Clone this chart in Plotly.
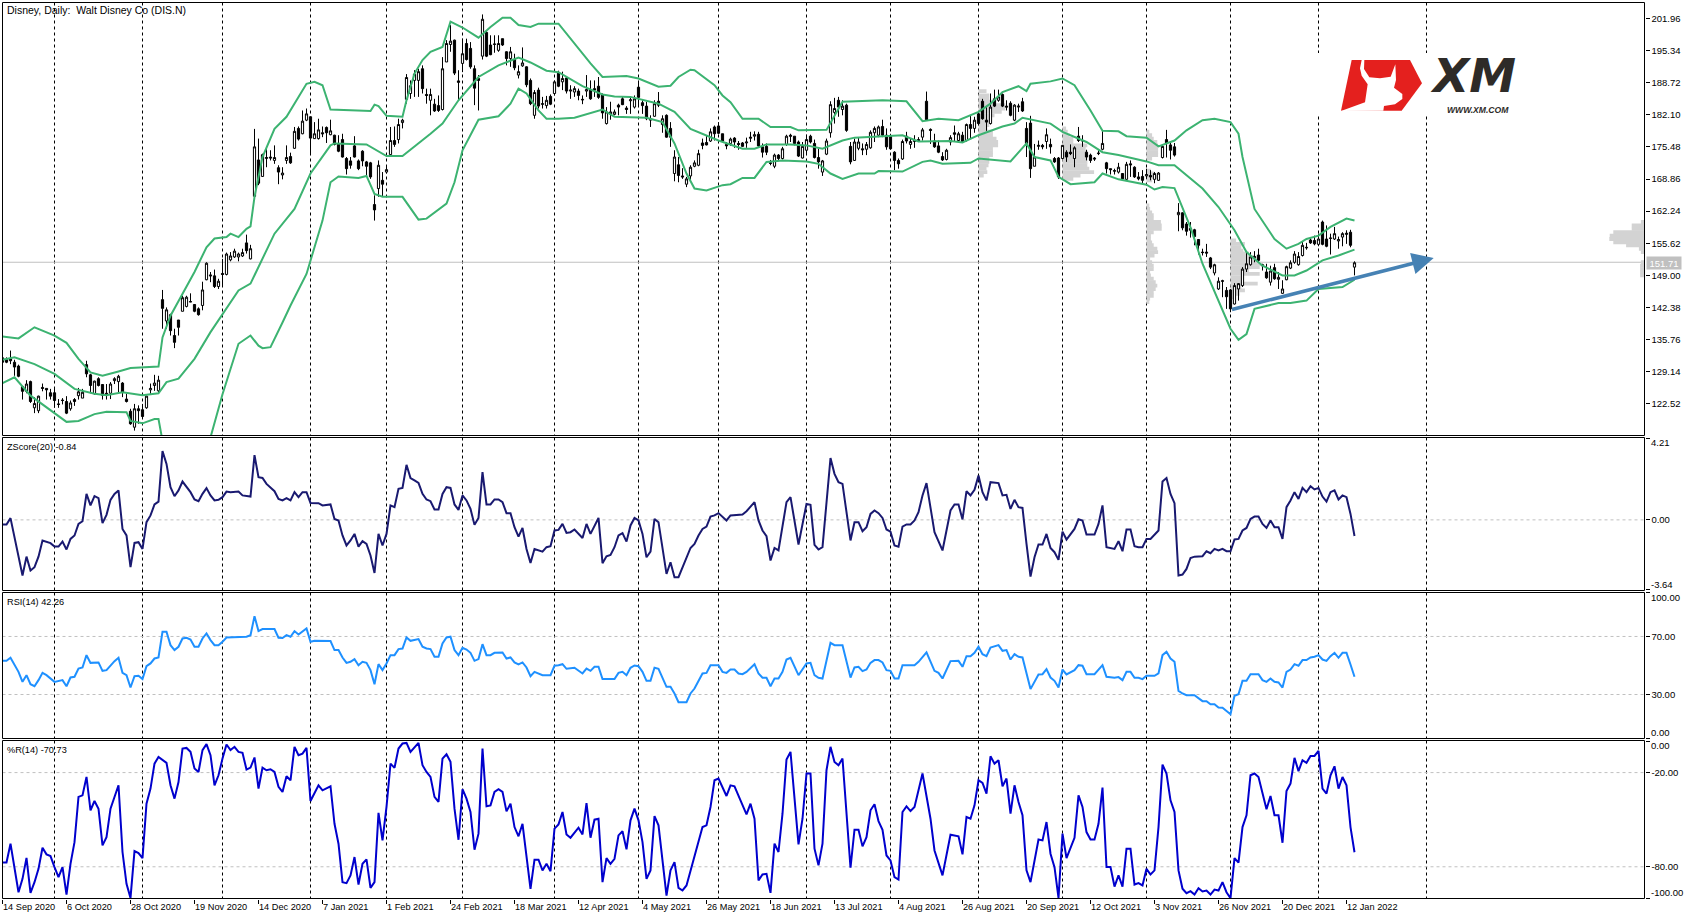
import plotly.graph_objects as go

W, H = 1692, 919
TICK_DATES = ["14 Sep 2020","6 Oct 2020","28 Oct 2020","19 Nov 2020","14 Dec 2020","7 Jan 2021","1 Feb 2021","24 Feb 2021","18 Mar 2021","12 Apr 2021","4 May 2021","26 May 2021","18 Jun 2021","13 Jul 2021","4 Aug 2021","26 Aug 2021","20 Sep 2021","12 Oct 2021","3 Nov 2021","26 Nov 2021","20 Dec 2021","12 Jan 2022"]
TICK_BARS = [16*k for k in range(len(TICK_DATES))]
SEPARATOR_BARS = [13,35,55,77,96,115,138,159,179,201,222,244,265,286,307,329,356]
PRICE_TICKS = [201.96,195.34,188.72,182.10,175.48,168.86,162.24,155.62,149.00,142.38,135.76,129.14,122.52]
LAST_PRICE = 151.71

HIGH = [132.3,132.1,133.5,131.6,130.6,126.1,127.4,127.3,123.9,124.2,126.7,125.7,125.6,125.9,123.5,123.7,124.1,123.2,123.7,125.8,125.6,131.4,128.7,127.3,128.0,126.6,126.6,127.0,128.0,128.5,127.0,124.6,121.5,122.5,122.2,122.5,124.2,126.7,128.5,128.3,
146.0,142.4,141.1,138.0,139.8,144.8,144.8,145.3,143.1,142.4,147.7,151.7,149.7,150.2,148.3,152.4,153.7,153.8,154.5,153.7,154.5,157.4,155.3,179.2,177.2,174.1,175.1,174.8,175.8,171.7,171.3,175.8,174.3,179.6,179.7,183.0,183.4,181.7,180.6,181.3,
179.7,179.7,181.1,178.0,177.9,178.2,173.4,173.4,177.7,172.9,174.8,172.6,172.4,165.5,172.7,170.3,171.7,179.6,179.7,181.3,181.3,190.5,189.2,191.3,191.6,192.3,187.5,187.5,185.4,186.1,194.0,197.5,200.6,197.6,191.3,197.8,197.8,197.1,192.3,190.3,
202.8,199.4,198.5,198.5,198.5,197.8,195.2,196.1,194.7,192.3,196.0,192.1,189.6,187.2,187.7,185.8,186.0,186.3,189.2,191.2,191.0,190.0,188.2,188.0,187.5,186.1,190.3,189.2,189.2,189.9,186.5,183.7,184.8,183.2,184.4,185.8,183.9,185.8,186.1,189.1,
185.1,184.8,182.0,185.1,186.8,182.0,182.2,180.6,174.8,173.4,171.1,169.3,171.7,172.7,174.9,177.2,177.9,179.3,179.9,180.6,178.2,176.5,177.4,177.5,176.7,176.5,177.4,178.6,178.7,178.6,176.2,176.2,172.8,174.1,174.0,175.5,178.0,178.2,177.7,176.8,
176.5,178.0,178.0,177.0,175.1,172.8,177.2,184.9,185.6,185.8,185.1,184.4,176.5,177.2,177.5,176.2,176.5,178.9,179.7,179.9,181.1,179.3,178.2,174.6,173.1,177.0,178.6,177.2,177.9,177.5,179.4,186.9,179.3,178.2,176.8,174.4,175.1,177.9,179.9,178.6,
178.6,180.3,182.0,181.7,182.7,185.4,183.7,186.5,187.3,187.3,186.5,185.1,184.9,184.3,184.4,185.6,180.6,181.9,176.1,176.8,176.1,179.3,177.2,173.4,173.4,175.9,174.8,176.0,175.6,179.6,177.9,174.9,174.1,173.4,174.8,178.8,172.4,171.0,171.0,172.2,
170.1,172.4,172.7,171.5,170.3,170.7,171.0,170.7,170.3,170.3,175.8,179.0,176.5,176.3,163.9,162.0,160.0,160.0,158.6,156.5,154.5,155.5,152.8,151.4,148.6,148.1,146.6,146.2,147.4,147.4,150.7,153.8,153.8,154.0,154.5,151.4,151.4,151.0,151.4,149.7,
148.0,151.0,152.1,154.0,153.8,155.9,155.7,156.9,157.2,157.6,160.3,159.3,157.6,159.0,157.0,157.9,158.3,158.4,151.9]

LOW = [130.9,130.9,130.7,128.3,128.0,123.4,124.7,122.7,120.6,120.6,125.1,123.4,123.4,121.7,121.7,122.4,120.4,121.1,122.1,123.4,123.7,128.0,124.7,124.4,126.1,123.4,123.4,123.5,126.6,124.7,123.9,122.8,118.2,117.0,118.4,119.4,121.5,124.6,125.2,124.7,
138.0,138.0,136.6,134.0,136.6,141.6,142.4,143.5,141.4,140.7,141.8,148.0,147.6,146.4,146.2,146.9,149.0,151.9,152.6,151.9,152.8,153.5,152.3,165.2,167.6,169.3,171.3,172.7,172.0,167.8,168.8,172.0,172.0,175.1,176.8,178.1,180.8,173.8,177.2,177.0,
177.5,176.3,177.9,175.8,174.4,173.3,169.8,171.0,173.3,170.7,171.5,169.3,168.9,160.3,165.2,165.2,170.0,173.8,175.5,176.2,179.3,184.4,185.4,185.8,185.8,186.5,184.4,182.0,182.7,182.7,183.0,193.0,195.1,190.3,185.1,190.9,193.3,191.6,184.1,183.0,
193.5,194.0,194.4,194.9,195.1,196.3,192.3,192.0,191.3,189.6,192.0,187.8,184.1,181.3,183.4,183.4,183.4,184.1,186.1,187.8,187.2,186.5,185.4,185.8,185.1,184.3,185.8,185.2,185.8,185.4,181.3,180.1,181.1,182.0,182.0,184.1,182.3,182.3,183.4,183.7,
182.3,181.0,179.6,181.7,183.7,178.4,177.4,175.5,168.4,168.2,168.9,167.2,168.7,171.3,171.5,175.0,175.8,176.5,176.8,178.1,176.5,175.0,175.7,175.3,174.9,175.5,175.3,176.5,176.8,175.5,173.3,173.8,171.7,171.1,172.7,172.9,175.7,176.5,175.8,173.4,
173.1,173.8,176.2,173.1,171.0,169.5,173.8,177.4,180.3,181.7,182.0,178.6,171.9,172.6,174.8,173.8,173.8,175.1,176.5,177.5,177.5,174.9,174.9,170.7,171.0,172.8,176.2,175.1,175.3,176.5,176.8,181.0,176.1,175.3,174.2,172.6,172.7,175.8,176.5,176.7,
176.5,176.6,177.2,178.4,179.9,181.1,178.8,180.1,183.7,184.8,183.7,183.0,181.8,180.8,182.7,182.7,173.4,169.1,171.5,174.9,175.0,175.1,174.1,172.2,168.9,173.1,172.4,173.8,171.3,176.5,175.5,172.7,172.2,172.6,173.8,174.8,170.0,169.8,169.8,170.0,
168.6,168.7,169.3,169.1,168.6,167.7,168.9,168.6,168.0,168.5,173.1,173.3,172.9,173.5,158.1,158.3,157.2,156.8,155.2,153.3,153.1,152.8,150.3,149.0,146.0,144.5,142.1,141.4,143.0,143.8,146.6,149.7,151.0,151.7,151.7,150.0,148.3,146.9,148.1,146.2,
145.2,148.0,150.3,151.4,151.0,152.9,154.3,155.5,155.2,155.0,155.2,154.8,153.3,156.3,154.5,155.0,155.5,154.8,149.0]

OPEN = [132.0,131.6,131.8,131.1,130.3,126.1,125.1,127.1,121.7,121.1,125.9,125.7,124.8,124.8,122.5,123.3,123.0,121.5,123.4,124.2,123.7,130.6,128.5,124.6,127.7,126.5,124.7,124.7,127.3,127.1,126.8,123.5,121.0,117.7,121.5,121.3,121.7,125.4,126.3,125.2,
144.0,139.6,140.9,136.6,139.8,141.6,142.6,143.5,143.0,142.1,142.8,148.1,149.1,148.9,146.7,149.4,149.2,152.2,152.8,152.8,153.0,155.7,152.4,165.3,172.8,169.4,173.1,173.4,172.7,171.2,169.7,172.7,173.5,175.2,179.3,178.2,181.0,181.7,177.2,177.2,
178.4,179.5,178.0,177.9,176.2,177.0,173.1,172.6,175.7,172.6,174.6,172.4,172.2,163.6,166.9,168.6,170.3,173.9,176.8,177.0,180.5,185.3,186.5,189.2,189.2,191.6,186.3,185.1,184.3,184.0,183.2,193.0,196.6,197.5,189.1,192.7,196.8,195.8,191.6,189.6,
194.2,199.1,196.5,196.6,195.4,197.8,195.1,193.7,193.5,190.3,192.2,192.0,189.2,182.0,187.2,184.4,184.0,185.9,186.5,190.7,188.9,189.7,187.0,186.8,187.0,185.3,187.0,187.2,187.5,188.0,186.3,180.3,182.3,182.2,184.1,185.4,183.5,185.0,183.7,187.8,
184.6,183.9,181.0,181.8,184.9,180.1,182.0,179.3,170.0,171.8,169.5,167.8,169.5,171.5,171.7,176.3,176.4,176.7,179.6,179.8,178.2,176.0,176.2,177.3,176.2,176.3,176.3,177.5,177.7,178.1,175.5,175.6,172.2,171.5,173.8,173.1,176.0,177.9,177.7,176.5,
173.2,174.8,177.7,176.2,173.3,170.3,174.0,178.4,182.6,185.1,183.2,184.1,175.6,172.7,175.2,175.1,175.0,175.3,178.4,177.9,179.7,177.9,177.7,174.4,172.7,173.0,177.7,176.0,176.6,177.0,177.5,184.9,179.1,176.7,175.7,173.5,172.9,176.5,178.4,176.8,
177.9,176.8,180.1,179.3,182.3,184.9,181.0,180.3,185.4,185.1,186.3,183.9,184.5,181.0,183.7,184.8,179.3,180.4,171.5,175.6,175.8,176.6,176.0,173.1,173.2,173.1,174.4,174.4,173.1,177.7,176.7,174.4,173.8,173.2,174.1,175.0,172.2,171.0,170.6,170.3,
170.0,168.8,172.0,171.3,169.3,169.4,169.5,169.6,168.8,168.6,173.3,177.0,175.9,175.5,161.5,161.9,159.6,158.7,158.4,156.4,153.8,153.8,152.6,149.5,146.2,147.9,145.9,146.0,143.1,146.2,146.9,150.3,151.2,152.6,153.2,151.2,149.7,147.6,150.6,148.2,
145.3,148.1,150.5,151.7,151.2,153.1,154.8,156.3,156.2,155.4,160.0,156.5,156.6,156.5,156.1,156.9,157.7,157.9,150.7]

CLOSE = [131.1,131.1,131.4,130.1,128.2,125.1,126.6,123.0,122.6,124.1,125.7,125.4,124.1,123.2,122.4,123.2,120.6,122.7,123.0,125.0,124.9,128.7,126.3,127.2,126.3,124.3,124.3,126.6,127.7,128.2,124.9,123.0,118.4,121.5,121.1,119.9,124.1,125.7,126.8,127.4,
142.2,141.9,137.6,135.2,138.3,144.4,144.5,143.6,141.6,140.9,146.0,151.5,148.9,146.7,147.8,149.2,153.4,153.0,154.0,153.4,153.7,154.1,154.5,175.5,168.0,173.9,173.3,173.2,173.3,170.3,170.1,173.3,172.2,178.7,177.1,180.8,182.3,177.3,178.2,179.0,
178.2,178.4,178.8,176.0,174.6,173.4,171.0,171.7,173.4,171.0,172.6,171.5,169.3,162.5,171.7,167.8,170.8,176.8,176.0,180.1,181.0,189.8,188.1,190.5,191.0,187.5,186.1,186.3,182.9,183.0,191.6,196.8,197.3,190.7,188.8,194.7,193.5,192.0,187.6,189.2,
201.8,194.2,194.5,196.7,196.8,196.5,193.7,195.1,191.8,191.0,192.8,188.3,184.4,186.7,183.9,184.3,185.1,184.3,188.9,188.0,189.6,187.0,187.2,187.5,186.1,185.2,187.3,185.4,187.2,185.7,182.5,182.7,182.7,182.7,183.7,184.2,183.2,185.2,185.4,185.7,
184.0,181.3,181.3,184.4,184.1,181.3,177.5,177.5,173.4,169.6,169.3,168.9,171.3,172.2,174.1,175.8,175.9,178.6,178.2,178.3,176.7,175.7,177.1,176.5,176.0,175.6,176.5,177.3,178.0,175.7,174.4,174.4,172.1,173.8,173.1,175.1,177.7,177.7,176.2,173.6,
175.6,177.0,176.5,173.3,172.4,172.6,176.7,184.2,183.4,183.7,183.9,178.9,172.4,176.5,176.5,174.9,176.0,178.5,179.3,179.6,177.9,175.5,175.1,172.7,172.0,176.6,176.7,176.6,176.8,176.8,179.0,181.1,178.9,175.5,174.4,172.8,174.8,177.4,178.1,178.2,
176.6,180.1,179.3,181.0,180.3,181.3,180.6,183.7,183.9,185.8,183.9,183.7,182.0,184.1,183.9,182.9,176.2,171.0,173.4,175.8,175.5,178.0,175.5,172.4,169.3,175.8,173.4,174.1,175.3,176.8,176.8,173.4,172.7,173.0,174.2,176.2,171.0,170.8,170.5,171.3,
168.9,171.9,171.8,169.3,168.9,168.6,169.8,169.3,170.0,170.1,175.6,176.3,174.8,173.8,162.0,158.8,158.1,158.3,157.0,155.2,153.7,153.6,150.7,151.2,147.8,147.8,144.6,142.1,146.9,147.3,150.3,151.4,152.8,152.9,152.1,151.0,148.5,149.9,148.3,148.6,
146.2,150.8,151.6,153.4,152.9,155.2,154.7,155.7,155.5,156.5,155.4,155.0,156.7,157.6,156.4,157.6,157.5,155.2,151.6]

BB_UPPER = [(0,136.4),(4,136.0),(8,138.3),(13,136.6),(16,135.1),(19,131.8),(22,129.0),(25,128.3),(29,129.2),(32,129.9),(39,130.2),(40,136.2),(42,140.7),(45,145.2),(48,149.7),(51,154.8),(53,156.6),(56,156.9),(57,157.6),(59,156.9),(61,158.6),(62,159.1),(63,165.2),(65,173.4),(68,179.2),(71,181.7),(74,185.8),(76,188.5),(78,188.9),(80,188.2),(82,183.2),(87,183.0),(92,182.9),(93,184.2),(94,183.9),(96,181.9),(100,181.7),(101,185.1),(103,190.6),(105,193.4),(107,195.1),(110,196.1),(112,201.3),(115,200.1),(119,198.0),(122,200.2),(125,202.1),(127,202.1),(129,200.6),(132,200.2),(134,200.9),(139,200.9),
(142,197.8),(147,192.7),(150,189.9),(156,190.1),(159,189.6),(164,187.9),(167,188.1),(169,189.9),(172,191.4),(173,191.3),(178,188.2),(180,186.1),(182,184.7),(185,181.3),(189,181.3),(192,179.6),(197,179.6),(199,178.9),(206,179.0),(210,184.8),(220,185.1),(226,184.9),(230,180.8),(234,181.3),(239,181.0),(244,182.7),(247,184.4),(250,186.8),(254,188.0),(256,187.0),(257,188.5),(262,189.0),(265,189.6),(268,188.2),(272,183.0),(275,178.8),(279,178.7),
(281,177.7),(286,177.4),(289,175.6),(293,176.8),(296,178.9),(300,181.0),(303,181.3),(307,180.6),(309,178.2),(310,173.4),(313,162.7),(318,156.5),(321,154.5),(324,155.5),(326,156.5),(329,157.2),(332,159.0),(336,160.7),(338,160.3)]

BB_MIDDLE = [(0,131.6),(3,132.1),(8,130.7),(13,128.7),(18,125.6),(23,124.6),(26,124.3),(30,124.9),(35,124.3),(39,124.7),(41,127.0),(44,127.7),(48,131.8),(52,137.3),(59,145.9),(62,147.3),(68,157.6),(73,162.7),(77,170.0),(82,175.8),(83,176.2),(91,176.0),(96,173.6),(100,173.6),(107,178.2),(110,180.3),(114,185.1),(119,189.9),(124,192.3),(129,193.9),(132,192.9),(136,191.2),(139,190.9),
(145,188.0),(150,186.3),(153,185.9),(157,185.8),(164,184.4),(168,182.7),(172,179.2),(179,176.8),(185,175.1),(188,175.1),(191,176.0),(197,176.0),(201,175.8),(205,175.1),(210,176.8),(213,177.4),(221,177.7),(225,177.9),(229,176.6),(237,176.7),(240,176.4),(244,177.9),(250,179.7),(253,180.3),(255,181.5),(262,180.3),(265,178.6),(271,176.5),(275,174.4),(279,173.8),
(286,172.5),(289,171.7),(293,171.7),(296,169.6),(300,166.9),(304,163.1),(308,158.3),(311,153.8),(315,151.0),(320,149.0),(323,149.0),(326,150.0),(330,152.1),(334,153.1),(338,154.3)]

BB_LOWER = [(0,126.8),(3,128.0),(7,124.2),(16,118.8),(19,119.0),(23,120.4),(26,120.9),(31,120.8),(32,119.0),(35,118.5),(38,119.4),(39,119.4),(40,114.9),(42,109.4),(49,109.4),(52,115.6),(55,124.5),(59,134.9),(62,136.6),(64,134.5),(65,134.0),(67,134.2),(70,139.3),(72,142.8),(76,149.3),(78,154.8),(80,160.3),(82,168.2),(84,169.4),(89,169.1),(91,169.5),(93,165.8),(95,165.2),(100,165.2),(104,160.5),(106,160.7),(110,163.1),(111,163.8),(113,168.2),(115,174.8),(119,181.1),(124,181.8),(127,184.4),(129,187.5),(131,186.5),(134,183.0),(136,181.3),(139,181.3),
(143,181.5),(150,183.2),(153,181.7),(161,181.5),(165,180.6),(168,176.2),(171,170.0),(173,166.9),(176,166.5),(180,167.6),(182,167.8),(185,169.1),(188,169.1),(191,172.4),(195,172.7),(201,172.5),(204,172.0),(207,170.0),(210,168.9),(214,170.0),(218,170.0),(219,170.5),(225,170.4),(230,172.4),(232,172.7),(235,172.0),(242,172.2),(244,173.1),(252,172.5),(256,176.2),(258,173.4),(262,172.7),(264,169.3),(267,167.8),(273,168.2),(275,170.0),(279,168.8),
(286,167.7),(288,166.7),(290,167.2),(293,167.0),(297,158.9),(300,151.4),(307,138.0),(309,135.7),(311,136.9),(313,142.1),(319,143.3),(322,143.3),(326,143.8),(329,146.2),(335,146.6),(338,148.1)]

ZSCORE = [(0,-.24),(1,-.24),(2,.09),(3,-.90),(4,-1.85),(5,-2.89),(6,-1.91),(7,-2.63),(8,-2.46),(9,-1.91),(10,-1.07),(12,-1.21),(13,-1.39),(14,-1.39),(15,-1.13),(16,-1.54),(17,-.99),(18,-.81),(19,-.21),(20,-.07),(21,1.35),(22,.75),(23,1.23),(24,1.13),(25,-.17),(26,.26),(27,1.04),(28,1.35),(29,1.53),(30,-.47),(31,-.81),(32,-2.46),(33,-1.20),(34,-1.16),(35,-1.51),(36,-.12),(37,.23),(38,.80),(39,.95),(40,3.57),(41,2.91),(42,1.70),(43,1.23),(44,1.53),(45,1.99),(46,1.73),(47,1.44),(48,1.06),(49,.97),(50,1.35),(51,1.65),(52,1.27),(53,1.01),(54,1.04),(55,1.18),(56,1.47),(57,1.44),(59,1.47),(60,1.27),(62,1.21),(63,3.36),(64,2.22),(65,2.18),(66,1.87),(67,1.66),(68,1.49),(69,1.09),(70,1.01),(71,1.13),(72,1.01),(73,1.44),(74,1.18),(75,1.44),(76,1.44),(77,.88),(79,.87),(80,.75),(82,.80),(83,.05),(84,-.03),(85,-.81),(86,-1.33),(87,-1.07),(88,-.73),(89,-1.39),(90,-1.11),(91,-1.25),(92,-1.85),(93,-2.76),(94,-.73),(95,-1.33),(96,-.73),(97,.75),(98,.66),(99,1.61),(100,1.66),(101,2.86),(102,2.17),(103,2.05),(104,1.92),(105,1.35),(106,1.06),(107,.97),(108,.54),(109,.54),(110,1.35),(111,1.70),(112,1.66),(113,.80),(114,.52),(115,1.27),(116,1.01),(117,.57),(118,-.26),(119,.10),(120,2.48),(121,.80),(122,.80),(123,1.06),(124,1.06),(125,.92),(126,.35),(127,.35),(128,-.38),(129,-.87),(130,-.42),(131,-1.51),(132,-2.24),(133,-1.51),(135,-1.65),(136,-1.42),(137,-1.37),(138,-.55),(139,-.52),(140,-.21),(141,-.68),(142,-.64),(143,-.50),(145,-.94),(146,-.21),(147,-.73),(149,.10),
(150,-2.25),(151,-1.89),(152,-1.82),(153,-1.42),(154,-.81),(155,-.69),(156,-1.13),(157,-.29),(158,.10),(159,-.03),(160,-.73),(161,-1.94),(162,-1.65),(163,.05),(164,-.12),(166,-2.81),(167,-2.20),(168,-2.98),(169,-2.98),(170,-2.50),(171,-2.03),(172,-1.46),(173,-1.25),(174,-.81),(175,-.47),(176,-.35),(177,.17),(178,.23),(179,.35),(181,-.03),(182,.23),(183,.26),(185,.28),(186,.45),(188,.92),(189,-.03),(190,-.55),(191,-.85),(192,-2.11),(193,-1.46),(194,-1.59),(196,.92),(197,1.18),(199,-1.28),(201,.83),(202,.78),(203,-1.30),(204,-1.54),(205,-1.42),(207,3.21),(208,2.39),(209,1.96),(210,1.87),(212,-1.07),(213,-.12),(214,-.12),(215,-.59),(216,-.38),(217,.31),(218,.49),(219,.35),(220,.10),(221,-.50),(222,-.61),(223,-1.33),(224,-1.39),(225,-.35),(226,-.24),(227,-.24),(228,-.03),(229,.40),(230,1.27),(231,1.91),(233,-.64),(235,-1.59),(237,.49),(238,.80),(239,.80),(240,.02),(241,1.49),(242,1.27),(243,1.56),(244,2.31),(245,1.44),(246,1.01),(247,1.96),(249,1.91),(250,1.27),(251,1.30),(252,.57),(253,1.04),(254,.66),(255,.62),(256,-1.25),(257,-2.95),(258,-1.94),(259,-1.28),(260,-1.28),(261,-.73),(262,-1.46),(263,-1.68),(264,-2.08),(265,-.61),(266,-1.02),(268,-.47),(269,.03),(270,-.03),(271,-.76),(273,-.76),(274,-.21),(275,.75),(276,-1.42),(278,-1.51),(279,-1.11),(280,-1.63),
(281,-.50),(282,-.50),(283,-1.37),(284,-1.42),(285,-1.42),(286,-.99),(287,-.99),(289,-.55),(290,1.99),(291,2.17),(292,1.35),(293,.87),(294,-2.89),(295,-2.84),(296,-2.55),(297,-1.98),(298,-1.91),(300,-1.89),(301,-1.63),(302,-1.73),(303,-1.51),(304,-1.59),(305,-1.51),(306,-1.63),(307,-1.63),(308,-1.02),(309,-.99),(310,-.55),(311,-.42),(312,.05),(313,.17),(314,.17),(315,-.21),(316,-.42),(317,-.03),(318,-.38),(319,-.38),(320,-.99),(321,.66),(322,1.01),(323,1.44),(324,1.09),(325,1.66),(326,1.44),(327,1.75),(328,1.58),(329,1.66),(330,1.21),(331,.95),(332,1.44),(333,1.53),(334,1.06),(335,1.27),(336,1.18),(337,.31),(338,-.84)]

RSI = [(0,53.2),(1,53.2),(2,55.3),(3,50.2),(4,45.6),(5,38.7),(6,43.3),(7,37.1),(8,35.7),(9,39.9),(10,44.9),(11,43.3),(12,41.0),(13,38.7),(15,39.9),(16,35.7),(17,41.7),(18,42.2),(19,47.9),(20,48.6),(21,57.1),(22,51.8),(24,52.1),(25,46.3),(26,46.8),(27,50.2),(28,53.0),(29,55.3),(30,44.9),(31,43.3),(32,34.8),(33,42.6),(34,42.9),(35,40.6),(36,49.5),(37,51.4),(38,54.8),(39,55.5),(40,73.2),(41,73.2),(42,64.0),(43,60.6),(44,62.9),(45,68.6),(46,69.1),(47,67.9),(48,62.9),(49,62.9),(50,68.6),(51,72.1),(52,67.5),(53,64.0),(54,64.0),(55,66.3),(56,69.3),(61,69.8),(62,70.9),(63,84.0),(64,73.7),(65,75.1),(68,75.1),(69,69.1),(70,68.9),(71,70.9),(72,69.8),(73,73.7),(74,71.4),(76,75.5),(77,66.3),(78,67.0),(82,66.8),(83,60.6),(84,60.6),(85,55.5),(86,51.8),(87,52.5),(88,54.4),(89,50.2),(90,52.5),(91,51.8),(92,46.8),(93,37.1),(94,50.9),(95,46.8),(96,51.4),(97,57.1),(98,57.1),(99,61.3),(100,61.7),(101,69.3),(102,67.0),(104,68.2),(105,62.9),(106,61.7),(107,61.3),(108,56.0),(109,56.0),(110,65.2),(111,69.3),(112,69.8),(113,60.6),(114,57.1),(115,62.2),(116,61.0),(117,58.7),(118,53.2),(119,54.4),(120,64.7),(121,57.1),(122,57.1),(123,58.7),(125,59.0),(126,54.8),(127,55.5),(128,52.1),(129,50.7),(130,52.1),(131,48.6),(132,42.6),(133,45.6),(135,43.3),(137,43.3),(138,49.8),(139,50.2),(140,50.9),(141,47.7),(143,48.4),(145,44.5),(146,47.9),(147,46.3),(148,49.1),(149,49.1),
(150,40.6),(153,40.6),(154,44.9),(155,45.6),(156,43.3),(157,48.4),(158,50.0),(159,49.5),(160,45.6),(161,39.4),(162,39.4),(163,48.4),(164,47.7),(166,35.3),(167,35.3),(168,30.7),(169,24.7),(171,24.7),(172,30.7),(173,34.1),(175,44.5),(176,44.9),(177,50.2),(179,50.2),(180,45.6),(181,44.9),(182,47.2),(183,47.2),(184,44.5),(185,44.0),(186,45.6),(188,50.9),(189,44.5),(190,41.5),(191,41.5),(192,35.7),(193,41.0),(194,41.0),(195,45.6),(196,54.1),(197,55.3),(199,43.3),(201,51.4),(202,51.8),(203,43.3),(204,41.5),(205,41.0),(207,65.6),(208,64.0),(210,64.0),(212,41.7),(213,48.6),(214,49.1),(215,46.1),(216,47.2),(217,51.8),(218,53.7),(219,53.7),(220,52.1),(221,46.8),(222,46.3),(223,41.0),(224,41.0),(225,50.2),(228,50.2),(229,52.5),(231,59.0),(233,46.3),(234,44.9),(235,41.0),(237,53.0),(239,53.2),(240,49.1),(241,56.4),(242,56.4),(243,58.7),(244,62.9),(245,57.8),(246,56.4),(247,62.4),(249,64.0),(250,60.1),(251,60.6),(252,54.1),(253,57.8),(254,56.0),(255,55.5),(257,33.7),(259,43.8),(260,44.0),(261,47.5),(262,41.7),(263,39.4),(264,34.8),(265,47.2),(266,43.8),(268,46.8),(269,50.2),(270,49.8),(271,44.0),(273,44.0),(275,50.2),(276,42.2),(278,41.5),(279,42.0),(280,39.9),
(281,45.6),(282,45.6),(283,41.5),(284,41.5),(285,40.6),(286,42.9),(288,42.9),(289,44.5),(290,57.1),(291,59.4),(292,54.8),(293,52.5),(294,32.5),(295,30.7),(296,29.5),(298,29.5),(300,25.4),(301,25.4),(302,23.3),(303,23.3),(304,21.0),(305,20.8),(307,16.4),(308,29.1),(309,30.2),(310,39.4),(311,39.4),(312,44.0),(314,44.0),(315,39.9),(316,38.7),(317,41.0),(318,38.7),(319,38.3),(320,34.8),(321,45.6),(322,47.2),(323,50.9),(324,49.8),(325,53.7),(326,53.7),(327,55.5),(328,56.0),(329,57.1),(330,54.1),(331,53.2),(332,56.4),(333,58.7),(334,55.3),(335,58.7),(336,58.7),(337,50.7),(338,42.26)]

WILLIAMS_R = [(0,-77.2),(1,-77.2),(2,-65.3),(3,-82.3),(4,-96.2),(5,-87.7),(6,-74.3),(7,-96.6),(8,-89.8),(9,-81.3),(10,-67.9),(11,-72.1),(12,-73.2),(13,-80.2),(14,-86.6),(15,-80.2),(16,-97.7),(17,-78.1),(18,-64.3),(19,-35.5),(20,-34.5),(21,-22.8),(22,-44.0),(23,-38.1),(24,-43.0),(25,-66.4),(26,-61.1),(27,-43.0),(28,-35.5),(29,-28.1),(30,-70.6),(31,-90.9),(32,-99.8),(33,-70.0),(34,-71.3),(35,-74.5),(36,-39.8),(37,-30.2),(38,-14.3),(39,-10.0),(41,-13.8),(42,-28.1),(43,-36.6),(44,-26.0),(45,-4.7),(46,-4.3),(47,-6.8),(48,-17.4),(49,-19.6),(50,-5.7),(51,-1.9),(52,-8.9),(53,-28.1),(54,-21.7),(55,-11.1),(56,-2.1),(57,-5.7),(58,-3.6),(59,-6.8),(60,-7.4),(61,-18.1),(62,-16.8),(63,-10.4),(64,-30.2),(65,-16.8),(66,-18.5),(67,-17.9),(68,-19.6),(69,-29.1),(70,-32.3),(71,-22.3),(72,-24.9),(73,-3.6),(74,-8.9),(75,-7.9),(76,-4.3),(77,-38.1),(79,-28.1),(80,-31.3),(82,-28.7),(83,-52.6),(84,-65.3),(85,-89.8),(86,-90.4),(87,-85.5),(88,-73.8),(89,-91.3),(90,-78.1),(91,-75.3),(92,-93.4),(93,-89.8),(94,-45.7),(95,-63.2),(96,-41.9),(97,-14.3),(98,-17.0),(99,-4.7),(100,-1.5),(101,-1.1),(102,-6.8),(104,-1.1),(105,-15.3),(106,-19.6),(107,-22.8),(108,-35.5),(109,-38.7),(110,-11.1),(111,-8.3),(112,-13.2),(113,-43.0),(114,-62.8),(115,-30.6),(116,-36.6),(117,-45.1),(118,-69.1),(119,-58.9),(120,-4.7),(121,-41.5),(122,-40.9),(123,-32.3),(124,-30.6),(125,-32.3),(126,-44.7),(127,-39.8),(128,-54.7),(129,-60.6),(130,-52.6),(131,-73.8),(132,-94.0),(133,-75.5),(134,-75.5),(135,-82.3),(136,-78.1),(137,-82.8),(138,-55.7),(139,-53.0),(140,-45.1),(141,-59.4),(142,-61.5),(144,-55.1),(145,-59.4),(146,-39.4),(147,-61.5),(148,-50.0),(149,-49.4),
(150,-89.8),(151,-74.5),(152,-78.1),(153,-74.9),(154,-60.0),(155,-57.4),(156,-68.9),(157,-50.4),(158,-43.0),(159,-50.4),(160,-64.3),(161,-87.7),(162,-82.3),(163,-47.7),(164,-53.6),(166,-98.3),(167,-82.3),(168,-77.0),(169,-93.4),(170,-95.1),(171,-91.9),(173,-73.8),(175,-54.7),(176,-53.6),(177,-41.9),(178,-24.9),(179,-23.8),(181,-34.9),(182,-28.1),(183,-28.7),(185,-40.9),(186,-46.6),(187,-39.8),(188,-49.4),(189,-88.7),(190,-84.9),(191,-84.5),(192,-96.6),(193,-65.3),(194,-70.6),(195,-46.2),(196,-11.7),(197,-6.8),(199,-65.7),(200,-49.4),(201,-20.6),(202,-20.6),(203,-68.5),(204,-79.1),(205,-65.3),(206,-18.5),(207,-3.6),(208,-13.2),(209,-15.3),(210,-11.1),(212,-80.6),(213,-56.4),(214,-56.4),(215,-67.0),(216,-61.1),(217,-44.0),(218,-40.2),(219,-50.9),(220,-56.4),(221,-72.8),(222,-76.0),(223,-86.6),(224,-88.1),(225,-45.1),(226,-41.5),(227,-44.5),(228,-41.9),(230,-20.6),(232,-49.4),(233,-69.6),(235,-85.5),(237,-59.6),(239,-60.6),(240,-72.1),(241,-48.3),(242,-49.4),(243,-40.9),(244,-24.9),(245,-26.6),(246,-33.4),(247,-9.6),(248,-14.3),(249,-12.1),(250,-28.7),(251,-23.8),(252,-46.2),(253,-28.1),(254,-38.7),(255,-47.2),(256,-82.3),(257,-89.8),(259,-62.6),(260,-63.2),(261,-51.5),(262,-71.7),(263,-80.2),(264,-99.8),(265,-58.9),(266,-74.5),(268,-61.5),(269,-34.5),(270,-41.9),(271,-57.9),(272,-62.6),(273,-62.6),(274,-52.6),(275,-29.6),(276,-80.2),(277,-80.2),(278,-92.6),(279,-85.5),(280,-92.6),
(281,-68.5),(282,-68.5),(283,-91.3),(284,-90.4),(285,-91.9),(286,-81.3),(287,-84.9),(288,-82.3),(289,-54.7),(290,-14.9),(291,-20.6),(292,-37.7),(293,-45.1),(294,-82.3),(295,-94.0),(296,-96.8),(297,-95.5),(298,-97.7),(299,-93.6),(300,-95.7),(301,-95.1),(302,-97.7),(303,-94.5),(304,-95.1),(305,-89.8),(306,-96.2),(307,-100.0),(308,-74.5),(309,-77.4),(310,-54.7),(311,-47.2),(312,-21.7),(313,-20.6),(314,-22.8),(315,-33.4),(316,-43.4),(317,-34.9),(318,-47.2),(319,-47.2),(320,-64.7),(321,-31.7),(322,-27.0),(323,-10.6),(324,-19.1),(325,-12.1),(326,-13.8),(327,-9.4),(328,-9.4),(329,-6.2),(330,-30.2),(331,-33.4),(332,-21.7),(333,-16.0),(334,-30.2),(335,-22.8),(336,-28.1),(337,-54.7),(338,-70.73)]

# Market-profile histograms: (price, length in bars)
PROFILE_A = [(187.0,2.0),(186.1,2.7),(185.4,2.7),(184.8,3.6),(184.1,6.7),(183.4,6.7),(182.7,5.8),(182.0,4.0),(181.3,3.1),(180.6,3.1),(180.0,2.7),(179.3,2.2),(178.6,3.6),(177.9,3.6),(177.2,4.5),(176.5,4.9),(175.8,4.9),(175.1,3.6),(174.4,3.6),(173.8,3.6),(173.1,2.7),(172.4,2.7),(171.7,2.5),(171.0,2.0),(170.3,2.2),(169.6,1.3)]
PROFILE_B = [(179.3,.9),(178.6,1.3),(177.9,1.8),(177.2,2.7),(176.5,2.7),(175.8,6.2),(175.1,5.8),(174.4,6.2),(173.8,5.8),(173.1,6.2),(172.4,6.2),(171.7,6.2),(171.0,6.7),(170.3,7.9),(169.6,4.5),(168.9,2.7)]
PROFILE_C = [(178.6,.7),(177.9,1.4),(177.2,1.8),(176.5,2.7),(175.8,2.9),(175.1,2.9),(174.4,2.9),(173.8,2.9),(173.1,1.4),(170.6,1.1),(170.0,2.0),(169.3,2.7),(168.6,1.4),(163.4,.7),(162.7,.9),(162.0,1.4),(161.4,1.8),(160.7,1.8),(160.0,3.6),(159.3,3.8),(158.6,3.8),(157.9,1.8),(157.2,1.1),(156.5,1.1),(155.8,1.4),(155.2,1.8),(154.5,2.7),(153.8,2.9),(153.1,2.0),(152.4,.9),(151.7,1.4),(151.0,1.8),(150.3,1.8),(149.7,.9),(149.0,1.1),(148.3,1.8),(147.6,2.3),(146.9,2.7),(146.2,2.3),(145.5,1.8),(144.8,1.8),(144.2,.9),(143.5,.7)]
PROFILE_D = [(156.2,1.4),(155.5,3.6),(154.8,2.7),(154.1,3.2),(153.5,4.6),(152.8,5.9),(152.1,6.8),(151.4,7.8),(150.7,7.3),(150.0,4.6),(149.3,7.3),(148.6,3.2),(148.0,2.7),(147.3,6.8),(146.6,2.7),(145.9,3.6),(145.2,2.3),(144.5,.9)]
PROFILE_E = [(160.0,.9),(159.3,3.2),(158.6,3.2),(157.9,7.8),(157.2,8.7),(156.5,8.8),(155.8,7.8),(155.2,4.6),(154.5,1.4),(153.8,.9),(151.7,.9),(151.0,1.1),(150.3,1.1),(149.7,1.1),(149.0,1.1)]

FONT = "Liberation Sans"
L, R = 2.5, 1644.5
PANES = [(2.5,435.5),(437.5,590.5),(592.5,738.5),(740.5,898.5)]
BAR_PX = 4.0
X_RANGE = [0, (R-L)/BAR_PX]
Y_RANGES = [[115.99,205.26],[-3.67,4.28],[-0.34,100.3],[-100.2,0.43]]
def px(x): return x/W
def py(y): return 1-y/H

fig = go.Figure()

GREY = "#D3D3D3"
def profile(rows, start=None, end=None):
    prices = [r[0] for r in rows]; lens = [r[1] for r in rows]
    base = [start]*len(rows) if start is not None else [end-l for l in lens]
    fig.add_trace(go.Bar(orientation="h", y=prices, x=lens, base=base, width=0.8,
                         marker=dict(color=GREY, line=dict(width=0)), showlegend=False,
                         hoverinfo="skip", xaxis="x", yaxis="y"))
profile(PROFILE_A, start=244)
profile(PROFILE_B, start=265)
profile(PROFILE_C, start=286)
profile(PROFILE_D, start=307)
profile(PROFILE_E, end=X_RANGE[1])

fig.add_trace(go.Candlestick(x=list(range(len(OPEN))), open=OPEN, high=HIGH, low=LOW, close=CLOSE,
    increasing=dict(line=dict(color="black", width=1), fillcolor="white"),
    decreasing=dict(line=dict(color="black", width=1), fillcolor="black"),
    whiskerwidth=0, showlegend=False, hoverinfo="skip", xaxis="x", yaxis="y"))

def line(rows, color, yaxis, width=2.0):
    fig.add_trace(go.Scatter(x=[r[0] for r in rows], y=[r[1] for r in rows], mode="lines",
        line=dict(color=color, width=width), showlegend=False, hoverinfo="skip", xaxis="x", yaxis=yaxis))
for band in (BB_UPPER, BB_MIDDLE, BB_LOWER):
    line(band, "#3CB371", "y")
line(ZSCORE, "#191970", "y2")
line(RSI, "#1E90FF", "y3")
line(WILLIAMS_R, "#0000CD", "y4")

shapes = []
for bar in SEPARATOR_BARS:
    for top, bot in PANES:
        shapes.append(dict(type="line", xref="x", yref="paper", x0=bar, x1=bar, y0=py(top), y1=py(bot),
                           line=dict(color="black", width=1, dash="3px,3px"), layer="below"))
LEVELS = [("y2",0),("y3",70),("y3",30),("y4",-20),("y4",-80)]
for ax, lv in LEVELS:
    shapes.append(dict(type="line", xref="paper", yref=ax, x0=px(L), x1=px(R), y0=lv, y1=lv,
                       line=dict(color="#C0C0C0", width=1, dash="3px,3px"), layer="below"))
shapes.append(dict(type="line", xref="paper", yref="y", x0=px(L), x1=px(R), y0=LAST_PRICE, y1=LAST_PRICE,
                   line=dict(color="#C0C0C0", width=1), layer="below"))
for top, bot in PANES:
    shapes.append(dict(type="rect", xref="paper", yref="paper", x0=px(L), x1=px(R), y0=py(bot), y1=py(top),
                       line=dict(color="black", width=1), fillcolor="rgba(0,0,0,0)", layer="above"))

# logo
def path(points, ox=1330, oy=45, k=3.0):
    pts = [(px(ox+x/k), py(oy+y/k)) for x, y in points]
    return "M " + " L ".join(f"{a:.5f},{b:.5f}" for a, b in pts) + " Z"
shapes.append(dict(type="rect", xref="paper", yref="paper", x0=px(1295), x1=px(1530), y0=py(116), y1=py(53),
                   line=dict(width=0), fillcolor="white", layer="above"))
RED_LOGO = [(33,197),(65,45),(240,45),(276,115),(215,197)]
BULL = [(95,45),(103,45),(102,72),(118,97),(150,100),(182,95),(196,58),(198,105),(192,128),(217,147),(217,162),(195,178),(162,183),(160,197),(33,198),(105,172),(113,118),(95,92),(90,70)]
shapes.append(dict(type="path", xref="paper", yref="paper", path=path(RED_LOGO), fillcolor="#E4201E", line=dict(width=0), layer="above"))
shapes.append(dict(type="path", xref="paper", yref="paper", path=path(BULL), fillcolor="white", line=dict(width=0), layer="above"))

TF = dict(family=FONT, size=9.5, color="black")
ann = []
def text(x, y, s, anchor="left", font=None, **kw):
    ann.append(dict(xref="paper", yref="paper", x=px(x), y=py(y), text=s, showarrow=False,
                    xanchor=anchor, yanchor="middle", font=font or TF, align="left", borderpad=0, **kw))
text(6, 10, "Disney, Daily:&nbsp;&nbsp;Walt Disney Co (DIS.N)", font=dict(family=FONT, size=10.5, color="black"))
IND = dict(family=FONT, size=9.2, color="black")
text(5.5, 446.5, "ZScore(20) -0.84", font=IND)
text(5.5, 601.5, "RSI(14) 42.26", font=IND)
text(5.5, 749.5, "%R(14) -70.73", font=IND)
for y, s in [(442.3,"4.21"),(584.3,"-3.64"),(597.3,"100.00"),(732.7,"0.00"),(745.7,"0.00"),(892.3,"-100.00")]:
    text(1650, y, s)
for bar, s in zip(TICK_BARS, TICK_DATES):
    ann.append(dict(xref="x", yref="paper", x=bar, y=py(907), text=s, showarrow=False, xanchor="left",
                    yanchor="middle", font=dict(family=FONT, size=9.2, color="black"), xshift=-1, borderpad=0))
ann.append(dict(xref="paper", yref="paper", x=px(1664), y=py(262.5), text=f"{LAST_PRICE:.2f}", showarrow=False,
                xanchor="center", yanchor="middle", font=dict(family=FONT, size=9.5, color="white"),
                bgcolor="#C0C0C0", width=34, height=12, borderpad=0))
ann.append(dict(xref="x", yref="y", axref="x", ayref="y", x=357.8, y=152.56, ax=307, ay=141.9, text="",
                showarrow=True, arrowhead=2, arrowsize=1.2, arrowwidth=3.6, arrowcolor="#4682B4", standoff=0))
ann.append(dict(xref="paper", yref="paper", x=px(1473), y=py(76), text="<b><i>XM</i></b>", showarrow=False,
                xanchor="center", yanchor="middle", font=dict(family="DejaVu Sans", size=47, color="#2E2B28"),
                borderpad=0))
ann.append(dict(xref="paper", yref="paper", x=px(1478), y=py(110), text="<b><i>WWW.XM.COM</i></b>", showarrow=False,
                xanchor="center", yanchor="middle", font=dict(family=FONT, size=8.6, color="#2E2B28"), borderpad=0))

def yax(domain_pane, rng, vals, txt):
    top, bot = domain_pane
    return dict(domain=[py(bot), py(top)], range=rng, side="right", anchor="x", showgrid=False, zeroline=False,
                showline=False, ticks="outside", ticklen=4, tickwidth=1, tickcolor="black", tickmode="array",
                tickvals=vals, ticktext=txt, tickfont=TF)

fig.update_layout(
    width=W, height=H, margin=dict(l=0, r=0, t=0, b=0), paper_bgcolor="white", plot_bgcolor="white",
    showlegend=False, hovermode=False, boxgap=0.22, barmode="overlay", font=dict(family=FONT),
    xaxis=dict(domain=[px(L), px(R)], range=X_RANGE, anchor="y4", showgrid=False, zeroline=False, showline=False,
               ticks="outside", ticklen=4, tickwidth=1, tickcolor="black", tickmode="array", tickvals=TICK_BARS,
               showticklabels=False, rangeslider=dict(visible=False)),
    yaxis=yax(PANES[0], Y_RANGES[0], PRICE_TICKS, [f"{v:.2f}" for v in PRICE_TICKS]),
    yaxis2=yax(PANES[1], Y_RANGES[1], [4.21,0,-3.64], ["", "0.00", ""]),
    yaxis3=yax(PANES[2], Y_RANGES[2], [100,70,30,0], ["", "70.00", "30.00", ""]),
    yaxis4=yax(PANES[3], Y_RANGES[3], [0,-20,-80,-100], ["", "-20.00", "-80.00", ""]),
    shapes=shapes, annotations=ann,
)
fig.write_html("out.html", config=dict(displayModeBar=False, responsive=False),
               post_script="document.body.style.margin='0';document.body.style.overflow='hidden';")
